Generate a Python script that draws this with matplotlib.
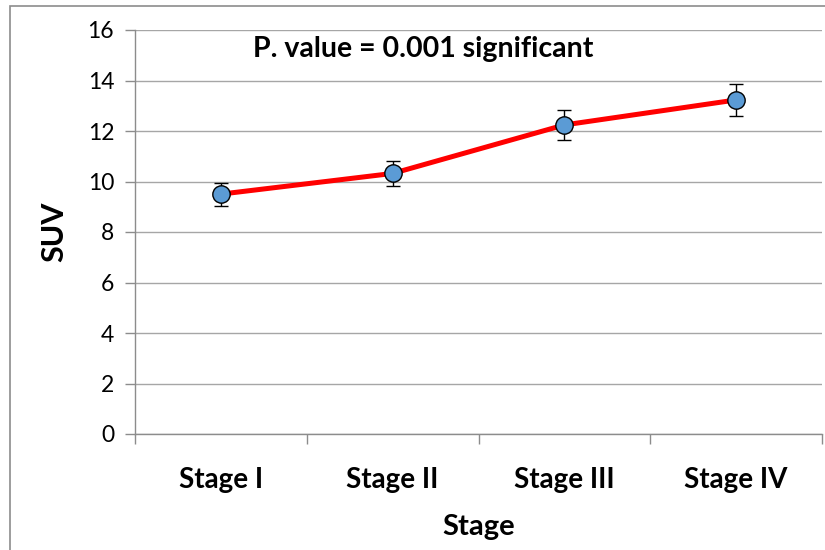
import matplotlib
matplotlib.use("Agg")
import matplotlib.pyplot as plt
from matplotlib.patches import Rectangle

stages = ["Stage I", "Stage II", "Stage III", "Stage IV"]
suv = [9.50, 10.32, 12.24, 13.23]
err = [0.46, 0.50, 0.60, 0.65]
yticks = [0, 2, 4, 6, 8, 10, 12, 14, 16]

plt.rcParams['font.family'] = ['Lato', 'DejaVu Sans']

fig = plt.figure(figsize=(8.25, 5.5), dpi=100)
ax = fig.add_axes([135/825, 1 - 434/550, (822-135)/825, (434-30)/550])

# outer frame
fig.patches.append(Rectangle((10/825, -0.05), 1.0, (550-6)/550 + 0.05,
                             transform=fig.transFigure, fill=False,
                             edgecolor='#8c8c8c', linewidth=1.2))

x = list(range(len(stages)))
ax.plot(x, suv, color='#ff0000', linewidth=3.6, zorder=3)
ax.errorbar(x, suv, yerr=err, fmt='none', ecolor='black', elinewidth=1.0,
            capsize=5, capthick=1.0, zorder=4)
ax.plot(x, suv, linestyle='none', marker='o', markersize=12.5,
        markerfacecolor='#5b9bd5', markeredgecolor='black',
        markeredgewidth=1.0, zorder=5)

ax.set_xlim(-0.5, len(stages) - 0.5)
ax.set_ylim(0, 16)
ax.set_yticks(yticks)
ax.set_yticklabels([str(v) for v in yticks], fontsize=16.5)
ax.yaxis.grid(True, color='#a6a6a6', linewidth=1.0)
ax.set_axisbelow(True)

ax.set_xticks([i - 0.5 for i in range(len(stages) + 1)])
ax.set_xticklabels([])
ax.set_xticks(x, minor=True)
ax.set_xticklabels(stages, minor=True, fontsize=20, fontweight='bold')
ax.tick_params(axis='x', which='minor', length=0, pad=24)
ax.tick_params(axis='x', which='major', direction='out', length=7,
               color='#8c8c8c', width=1)
ax.tick_params(axis='y', direction='out', length=7, color='#8c8c8c',
               width=1, pad=8)

for s in ['top', 'right']:
    ax.spines[s].set_visible(False)
for s in ['left', 'bottom']:
    ax.spines[s].set_color('#8c8c8c')
    ax.spines[s].set_linewidth(1.0)

ax.set_xlabel("Stage", fontsize=21, fontweight='bold', labelpad=15)
ax.set_ylabel("SUV", fontsize=22, fontweight='bold', labelpad=14)

ax.text(0.419, 0.985, "P. value = 0.001 significant", fontsize=20.5,
        fontweight='bold', ha='center', va='top', transform=ax.transAxes,
        bbox=dict(facecolor='white', edgecolor='none', pad=2), zorder=6)

fig.savefig("out.png", dpi=100)
